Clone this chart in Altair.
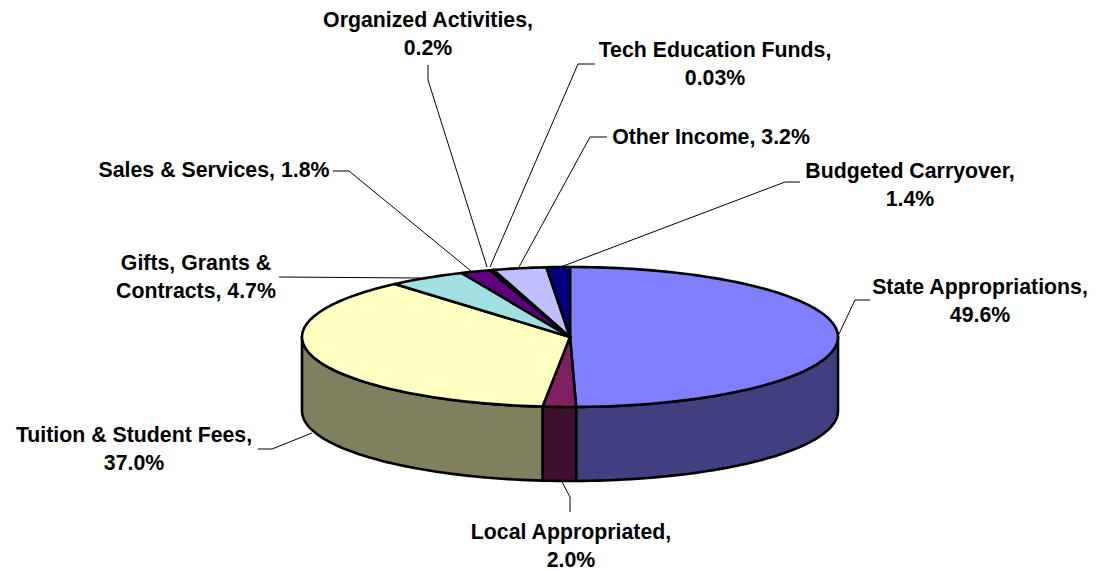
import math
import altair as alt
import pandas as pd

categories = ["State Appropriations", "Local Appropriated", "Tuition & Student Fees",
              "Gifts, Grants & Contracts", "Sales & Services", "Organized Activities",
              "Tech Education Funds", "Other Income", "Budgeted Carryover"]
values = [49.6, 2.0, 37.0, 4.7, 1.8, 0.2, 0.03, 3.2, 1.4]
top_colors = ["#8080FF", "#802060", "#FFFFC0", "#A0E0E0", "#600080", "#E08080", "#0080C0", "#C0C0FF", "#000080"]
side_colors = ["#40407F", "#401030", "#80805F", "#507070", "#300040", "#704040", "#004060", "#60607F", "#000040"]

label_texts = ["State Appropriations,\n49.6%", "Local Appropriated,\n2.0%", "Tuition & Student Fees,\n37.0%",
               "Gifts, Grants &\nContracts, 4.7%", "Sales & Services, 1.8%", "Organized Activities,\n0.2%",
               "Tech Education Funds,\n0.03%", "Other Income, 3.2%", "Budgeted Carryover,\n1.4%"]
label_x = [980, 571, 134, 196, 214, 428, 715, 711, 910]
label_y = [288, 533, 436, 264, 171, 21, 51, 138, 172]

leaders = [
    [(838, 336), (855, 300), (870, 300)],
    [(562, 482), (570, 497), (570, 512)],
    [(312, 433), (272, 449), (258, 449)],
    [(420, 278), (279, 277)],
    [(471, 271), (349, 171), (333, 171)],
    [(487, 267), (428, 80), (428, 65)],
    [(490, 267), (578, 64), (595, 64)],
    [(519, 267), (590, 137), (607, 137)],
    [(558, 268), (785, 182), (800, 182)],
]

CX, CY, RX, RY, DEPTH = 570, 337, 268, 70, 74
total = sum(values)

def pt(deg, drop=0):
    a = math.radians(deg)
    return CX + RX * math.sin(a), CY - RY * math.cos(a) + drop

tops, sides = [], []
start = 0.0
for i, v in enumerate(values):
    end = start + v / total * 360
    n = max(2, int((end - start) / 1.5) + 2)
    arc = [start + (end - start) * k / (n - 1) for k in range(n)]
    poly = [(CX, CY)] + [pt(d) for d in arc] + [(CX, CY)]
    for k, (x, y) in enumerate(poly):
        tops.append(dict(s=i, k=k, x=x, y=y, c=top_colors[i]))
    lo, hi = max(start, 90), min(end, 270)
    if hi > lo:
        m = max(2, int((hi - lo) / 1.5) + 2)
        arc2 = [lo + (hi - lo) * k / (m - 1) for k in range(m)]
        poly2 = [pt(d) for d in arc2] + [pt(d, DEPTH) for d in reversed(arc2)] + [pt(arc2[0])]
        for k, (x, y) in enumerate(poly2):
            sides.append(dict(s=i, k=k, x=x, y=y, c=side_colors[i]))
    start = end

lead_rows = [dict(s=i, k=k, x=x, y=y) for i, l in enumerate(leaders) for k, (x, y) in enumerate(l)]
labels = pd.DataFrame(dict(t=label_texts, x=label_x, y=label_y))

X = alt.X("x:Q", scale=alt.Scale(domain=[8, 1093], nice=False, zero=False), axis=None)
Y = alt.Y("y:Q", scale=alt.Scale(domain=[563, 8], nice=False, zero=False), axis=None)

def polys(rows):
    return alt.Chart(pd.DataFrame(rows)).mark_line(
        stroke="black", strokeWidth=2.6, strokeJoin="round", strokeCap="round", clip=False
    ).encode(x=X, y=Y, detail="s:N", order="k:Q", fill=alt.Fill("c:N", scale=None, legend=None))

side_layer = polys(sides)
top_layer = polys(tops)
lead_layer = alt.Chart(pd.DataFrame(lead_rows)).mark_line(stroke="black", strokeWidth=1).encode(
    x=X, y=Y, detail="s:N", order="k:Q")
text_layer = alt.Chart(labels).mark_text(
    font="Liberation Sans", fontWeight="bold", fontSize=21.3, lineBreak="\n", lineHeight=28,
    align="center", baseline="middle", color="black"
).encode(x=X, y=Y, text="t:N")

chart = alt.layer(lead_layer, side_layer, top_layer, text_layer).properties(
    width=1085, height=555, padding=0, background="white"
).configure_view(stroke=None)

chart.save("out.html", embed_options={"renderer": "svg", "actions": False})
